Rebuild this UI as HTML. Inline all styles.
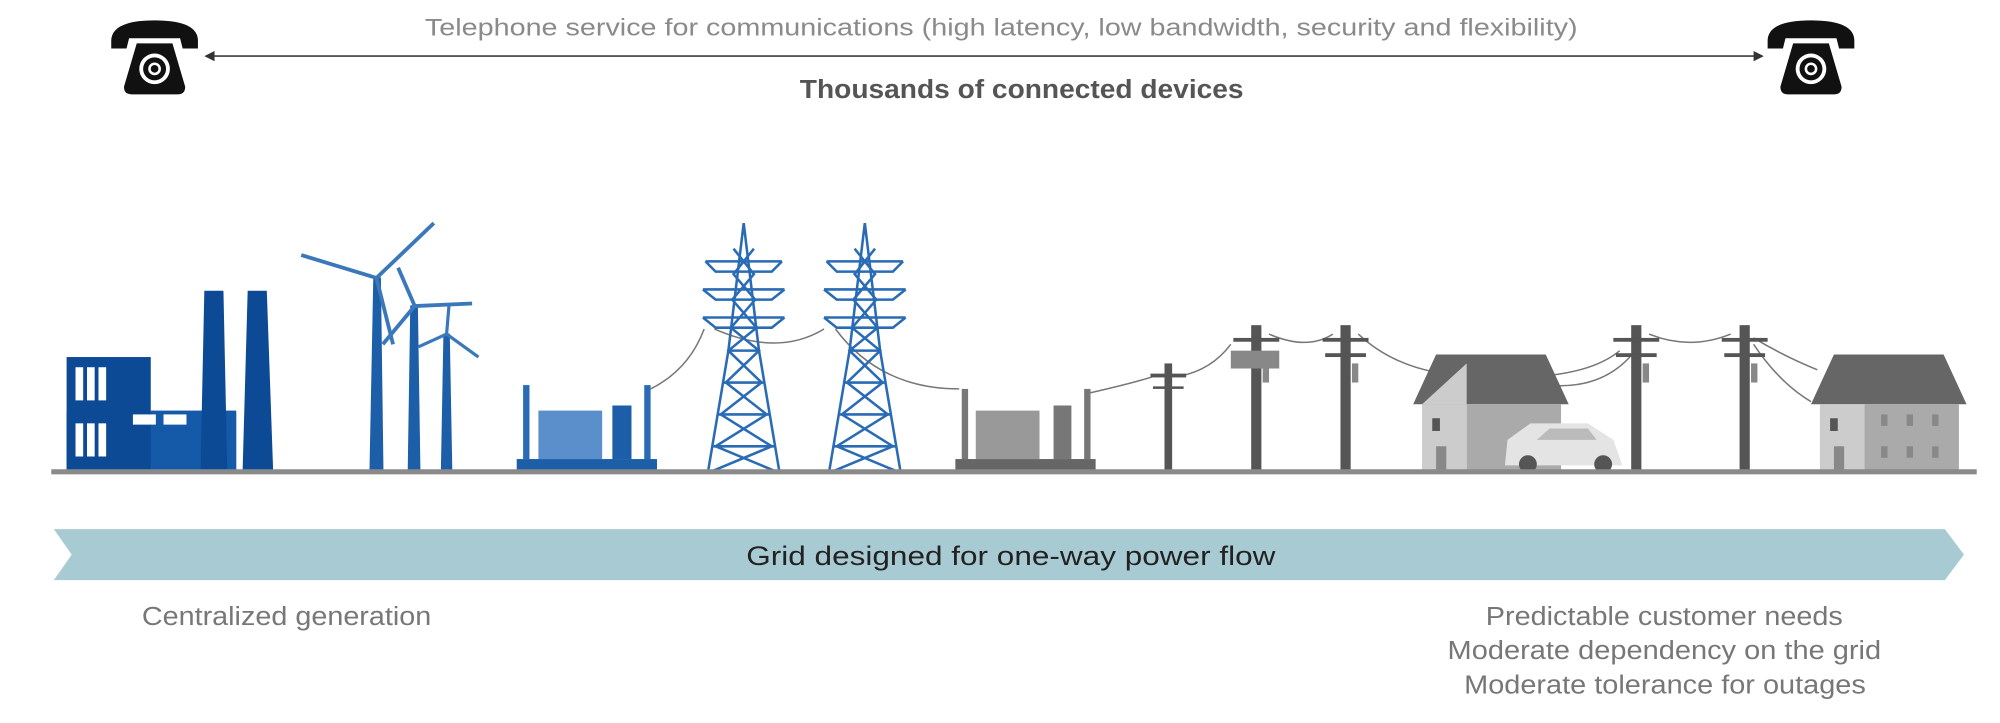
<!DOCTYPE html>
<html><head><meta charset="utf-8"><style>
html,body{margin:0;padding:0;background:#fff;width:2000px;height:723px;overflow:hidden}
svg{display:block}
text{font-family:"Liberation Sans",sans-serif}
</style></head><body>
<svg width="2000" height="723" viewBox="0 0 1568 567" xmlns="http://www.w3.org/2000/svg">
<defs>
<g id="phone">
<path d="M-34,-14 Q-34,-30 0,-30 Q34,-30 34,-14 L34,-8 L22,-8 L20,-16 L-20,-16 L-22,-8 L-34,-8 Z" fill="#111"/>
<path d="M-14,-12 L14,-12 L24,22 Q24,28 18,28 L-18,28 Q-24,28 -24,22 Z" fill="#111"/>
<circle cx="0" cy="8" r="12" fill="#fff"/><circle cx="0" cy="8" r="9" fill="#111"/>
<circle cx="0" cy="8" r="5" fill="#fff"/><circle cx="0" cy="8" r="3" fill="#111"/>
</g>
<g id="pylon" stroke="#2a6bb5" stroke-width="2" fill="none">
<path d="M0,0 L-12,100 L-28,195 M0,0 L12,100 L28,195"/>
<path d="M-30,30 L30,30 M-32,52 L32,52 M-32,74 L32,74"/>
<path d="M-30,30 L-22,38 L22,38 L30,30 M-32,52 L-22,60 L22,60 L32,52 M-32,74 L-22,82 L22,82 L32,74"/>
<path d="M-8,20 L8,40 L-9,60 L10,82 L-12,100 L14,125 L-18,150 L22,175 L-26,195 M8,20 L-8,40 L9,60 L-10,82 L12,100 L-14,125 L18,150 L-22,175 L26,195"/>
<path d="M-12,100 L12,100 M-16,125 L16,125 M-20,150 L20,150 M-24,175 L24,175"/>
</g>
<g id="pole" fill="#555">
<rect x="-4" y="0" width="8" height="115"/>
<rect x="-18" y="10" width="36" height="3"/><rect x="-16" y="22" width="32" height="3"/>
<rect x="5" y="30" width="5" height="15" fill="#888"/>
</g>
</defs>

<text x="333" y="28" font-size="19" fill="#8a8a8a" textLength="904" lengthAdjust="spacingAndGlyphs">Telephone service for communications (high latency, low bandwidth, security and flexibility)</text>
<line x1="165" y1="44" x2="1378" y2="44" stroke="#555" stroke-width="1.5"/>
<path d="M160,44 L168,40 L168,48 Z M1383,44 L1375,40 L1375,48 Z" fill="#333"/>
<text x="627" y="77" font-size="20" font-weight="bold" fill="#555" textLength="348" lengthAdjust="spacingAndGlyphs">Thousands of connected devices</text>
<use href="#phone" x="121" y="46"/>
<use href="#phone" x="1420" y="46"/>

<!-- factory -->
<g fill="#0d4a96">
<rect x="52" y="280" width="66" height="90"/>
<rect x="52" y="323" width="133" height="47"/>
<rect x="118" y="322" width="67" height="48" fill="#145aa8"/>
<path d="M160,228 L175,228 L178,370 L157,370 Z"/>
<path d="M194,228 L209,228 L214,370 L190,370 Z"/>
</g>
<g fill="#fff"><rect x="59" y="288" width="6" height="26"/><rect x="68" y="288" width="6" height="26"/><rect x="77" y="288" width="6" height="26"/>
<rect x="59" y="332" width="6" height="26"/><rect x="68" y="332" width="6" height="26"/><rect x="77" y="332" width="6" height="26"/>
<rect x="104" y="325" width="18" height="8"/><rect x="128" y="325" width="18" height="8"/></g>

<!-- wind turbines -->
<g stroke="#1d5ea8" fill="#1d5ea8">
<path d="M293,218 L298,218 L300,370 L290,370 Z"/>
<path d="M322,240 L327,240 L329,370 L320,370 Z"/>
<path d="M348,262 L352,262 L354,370 L346,370 Z"/>
<path d="M295,218 L236,200 M295,218 L340,175 M295,218 L308,270" stroke-width="3" fill="none" stroke="#3a78bb"/>
<path d="M325,240 L370,238 M325,240 L300,270 M325,240 L312,210" stroke-width="3" fill="none" stroke="#3a78bb"/>
<path d="M350,262 L375,280 M350,262 L328,272 M350,262 L352,238" stroke-width="2.5" fill="none" stroke="#3a78bb"/>
</g>

<!-- transformer 1 -->
<g fill="#2a6bb5">
<rect x="405" y="360" width="110" height="9" fill="#1d5ea8"/>
<rect x="410" y="302" width="5" height="58"/><rect x="505" y="302" width="5" height="58"/>
<rect x="422" y="322" width="50" height="38" fill="#5a8fcb"/>
<rect x="480" y="318" width="15" height="42" fill="#1d5ea8"/>
</g>
<!-- transformer 2 gray -->
<g fill="#777">
<rect x="749" y="360" width="110" height="9" fill="#666"/>
<rect x="754" y="305" width="5" height="55"/><rect x="850" y="305" width="5" height="55"/>
<rect x="765" y="322" width="50" height="38" fill="#999"/>
<rect x="826" y="318" width="14" height="42" fill="#777"/>
</g>

<!-- wires -->
<g fill="none" stroke="#777" stroke-width="1.2">
<path d="M510,305 Q540,290 552,258"/>
<path d="M560,258 Q610,280 646,258"/>
<path d="M655,258 Q690,305 752,305"/>
<path d="M855,308 Q890,300 905,295"/>
<path d="M925,295 Q950,290 965,270"/>
<path d="M995,262 Q1025,275 1045,262"/>
<path d="M1065,262 Q1100,295 1160,295 Q1240,300 1270,275"/>
<path d="M1200,300 Q1250,310 1278,280"/>
<path d="M1293,262 Q1325,275 1357,262"/>
<path d="M1375,265 Q1400,280 1425,290"/>
<path d="M1375,270 Q1395,300 1420,315"/>
</g>

<use href="#pylon" x="583" y="175"/>
<use href="#pylon" x="678" y="175"/>

<g fill="#555">
<rect x="913" y="285" width="6" height="85"/><rect x="902" y="293" width="28" height="3"/><rect x="904" y="303" width="24" height="2"/>
</g>
<use href="#pole" x="985" y="255"/>
<rect x="965" y="275" width="38" height="14" fill="#888"/>
<use href="#pole" x="1055" y="255"/>
<use href="#pole" x="1283" y="255"/>
<use href="#pole" x="1368" y="255"/>

<!-- houses -->
<g>
<path d="M1108,317 L1126,278 L1212,278 L1230,317 Z" fill="#666"/>
<rect x="1115" y="317" width="35" height="53" fill="#ccc"/>
<path d="M1115,317 L1150,285 L1150,317 Z" fill="#ccc"/>
<rect x="1150" y="317" width="74" height="53" fill="#aaa"/>
<rect x="1123" y="328" width="6" height="10" fill="#555"/><rect x="1126" y="350" width="8" height="20" fill="#888"/>
<path d="M1180,365 L1182,345 L1200,332 L1245,332 L1265,345 L1272,365 Z" fill="#e4e4e4"/>
<circle cx="1198" cy="364" r="7" fill="#555"/><circle cx="1257" cy="364" r="7" fill="#555"/>
<path d="M1205,345 L1215,336 L1245,336 L1252,345 Z" fill="#bbb"/>
</g>
<g>
<path d="M1420,317 L1438,278 L1524,278 L1542,317 Z" fill="#666"/>
<rect x="1427" y="317" width="35" height="53" fill="#ccc"/>
<rect x="1462" y="317" width="74" height="53" fill="#aaa"/>
<rect x="1435" y="328" width="6" height="10" fill="#555"/><rect x="1438" y="350" width="8" height="20" fill="#888"/>
<rect x="1475" y="325" width="5" height="9" fill="#888"/><rect x="1495" y="325" width="5" height="9" fill="#888"/><rect x="1515" y="325" width="5" height="9" fill="#888"/>
<rect x="1475" y="350" width="5" height="9" fill="#888"/><rect x="1495" y="350" width="5" height="9" fill="#888"/><rect x="1515" y="350" width="5" height="9" fill="#888"/>
</g>

<rect x="40" y="368" width="1510" height="4" fill="#8a8a8a"/>

<path d="M42,415 L1525,415 L1540,435 L1525,455 L42,455 L56,435 Z" fill="#a8cbd3"/>
<text x="585" y="443" font-size="21" fill="#222" textLength="415" lengthAdjust="spacingAndGlyphs">Grid designed for one-way power flow</text>

<text x="111" y="490" font-size="20" fill="#777" textLength="227" lengthAdjust="spacingAndGlyphs">Centralized generation</text>
<g font-size="20" fill="#777">
<text x="1165" y="490" textLength="280" lengthAdjust="spacingAndGlyphs">Predictable customer needs</text>
<text x="1135" y="517" textLength="340" lengthAdjust="spacingAndGlyphs">Moderate dependency on the grid</text>
<text x="1148" y="544" textLength="315" lengthAdjust="spacingAndGlyphs">Moderate tolerance for outages</text>
</g>
</svg>
</body></html>
